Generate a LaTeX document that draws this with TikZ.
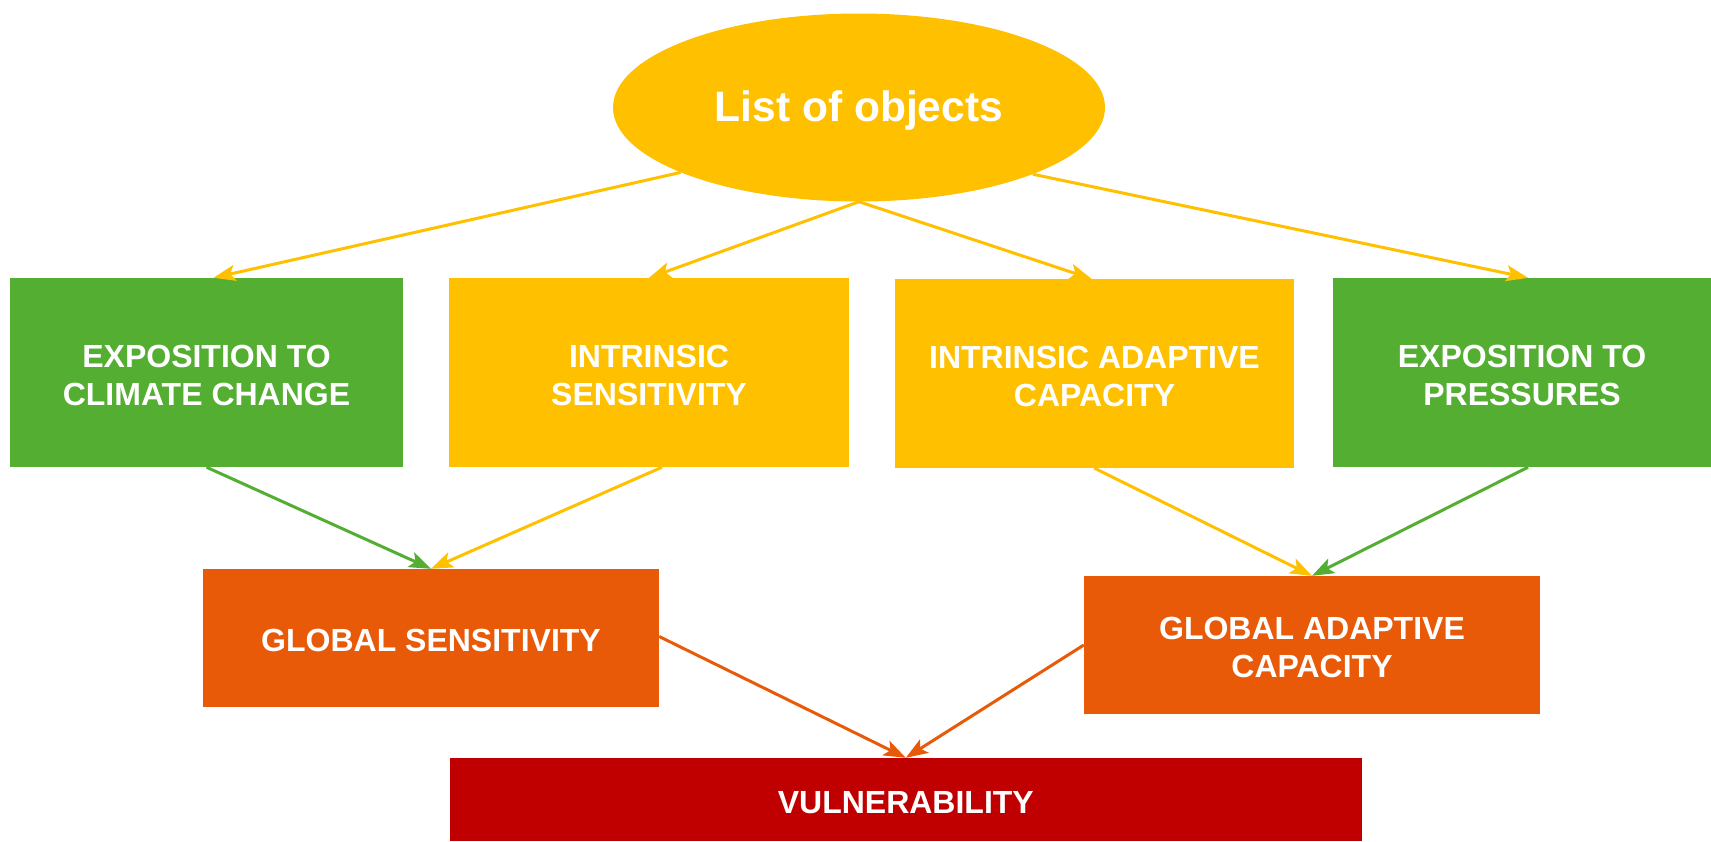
\documentclass[tikz,border=0pt]{standalone}
\usepackage{fontspec}
\setmainfont{Liberation Sans}
\usetikzlibrary{shapes.geometric,arrows.meta}
\definecolor{cgreen}{HTML}{54AE32}
\definecolor{cyellow}{HTML}{FFC000}
\definecolor{corange}{HTML}{E85A07}
\definecolor{cred}{HTML}{C00000}
\begin{document}
\begin{tikzpicture}[x=1pt,y=-1pt,
  box/.style={rectangle,inner sep=0pt},
  lbl/.style={inner sep=0pt,text=white,align=center,
    font=\fontsize{32}{38}\selectfont\bfseries},
  conn/.style={line width=3pt,-{Stealth[length=22pt,width=16pt,inset=5pt]}}]
\useasboundingbox (0,0) rectangle (1711,841);
\node[ellipse,fill=cyellow,minimum width=492pt,minimum height=188pt,inner sep=0pt] (obj) at (859,107.5) {};
\node[inner sep=0pt,text=white,font=\fontsize{42.5}{50}\selectfont\bfseries] (objt) at ([yshift=-3.5pt]obj.center) {List of objects};
\node[box,fill=cgreen,minimum width=393pt,minimum height=189pt] (ec) at (206.5,372.5) {};
\node[box,fill=cyellow,minimum width=400pt,minimum height=189pt] (is) at (649,372.5) {};
\node[box,fill=cyellow,minimum width=399pt,minimum height=189pt] (iac) at (1094.5,373.5) {};
\node[box,fill=cgreen,minimum width=378pt,minimum height=189pt] (ep) at (1522,372.5) {};
\node[box,fill=corange,minimum width=456pt,minimum height=138pt] (gs) at (431,638) {};
\node[box,fill=corange,minimum width=456pt,minimum height=138pt] (gac) at (1312,645) {};
\node[box,fill=cred,minimum width=912pt,minimum height=83pt] (vul) at (905.8,799.5) {};
\node[lbl] (ect) at ([yshift=-2.5pt]ec.center) {EXPOSITION TO\\CLIMATE CHANGE};
\node[lbl] (ist) at ([yshift=-2.5pt]is.center) {INTRINSIC\\SENSITIVITY};
\node[lbl] (iact) at ([yshift=-2.5pt]iac.center) {INTRINSIC ADAPTIVE\\CAPACITY};
\node[lbl] (ept) at ([yshift=-2.5pt]ep.center) {EXPOSITION TO\\PRESSURES};
\node[lbl] (gst) at ([yshift=-2.5pt]gs.center) {GLOBAL SENSITIVITY};
\node[lbl] (gact) at ([yshift=-2.5pt]gac.center) {GLOBAL ADAPTIVE\\CAPACITY};
\node[lbl] (vult) at ([yshift=-3pt]vul.center) {VULNERABILITY};
\draw[conn,cyellow] (obj.200.6) -- ([xshift=7pt]ec.north);
\draw[conn,cyellow] (obj.south) -- (is.north);
\draw[conn,cyellow] (obj.south) -- ([xshift=-3pt]iac.north);
\draw[conn,cyellow] (obj.339.2) -- ([xshift=6pt]ep.north);
\draw[conn,cgreen] (ec.south) -- (gs.north);
\draw[conn,cyellow] ([xshift=13pt]is.south) -- (gs.north);
\draw[conn,cyellow] (iac.south) -- (gac.north);
\draw[conn,cgreen] ([xshift=6pt]ep.south) -- (gac.north);
\draw[conn,corange] ([yshift=1.5pt]gs.east) -- (vul.north);
\draw[conn,corange] (gac.west) -- (vul.north);
\end{tikzpicture}
\end{document}
